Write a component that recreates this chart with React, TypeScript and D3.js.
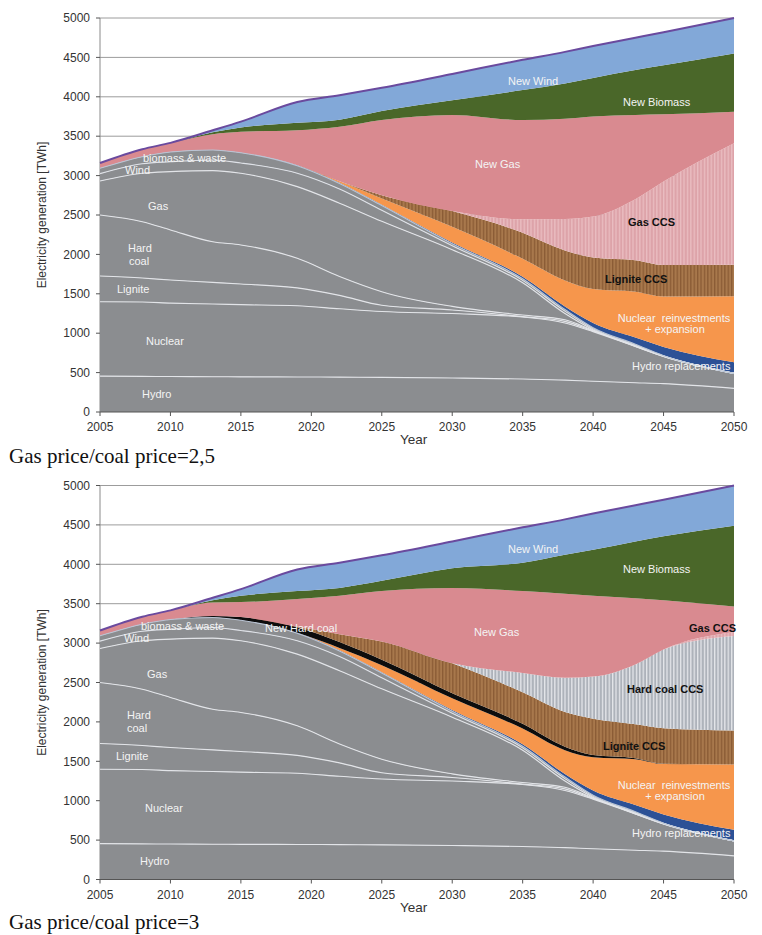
import React from 'react';
import * as d3 from 'd3';

// ---------- DATA ----------
const years = [2005, 2008, 2010, 2013, 2015, 2019, 2022, 2025, 2030, 2035, 2038, 2040, 2043, 2045, 2050];

// existing plants (TWh), identical in both scenarios
const hydro = [455, 452, 450, 448, 446, 445, 442, 440, 432, 418, 405, 390, 372, 360, 300];
const nuclear = [945, 943, 932, 922, 916, 903, 868, 835, 818, 787, 725, 630, 458, 345, 190];
const lignite = [326, 305, 293, 275, 262, 227, 170, 80, 45, 5, 20, 8, 3, 1, 0];
const hardCoal = [774, 715, 635, 515, 496, 375, 240, 172, 45, 20, 20, 7, 3, 2, 0];
const gas = [431, 614, 740, 903, 909, 910, 930, 893, 720, 410, 80, 10, 4, 2, 0];
const wind = [94, 121, 126, 135, 131, 170, 180, 140, 50, 30, 30, 13, 10, 2, 0];
const biomassWaste = [67, 90, 124, 127, 130, 95, 70, 60, 25, 20, 20, 12, 10, 3, 0];

// scenario 1: gas price / coal price = 2,5
const hydroRepl1 = [0, 0, 0, 0, 0, 5, 8, 10, 15, 25, 40, 60, 85, 110, 140];
const nuclearReinv1 = [0, 0, 0, 0, 0, 0, 20, 80, 200, 230, 330, 430, 580, 640, 840];
const ligniteCcs1 = [0, 0, 0, 0, 0, 0, 0, 40, 200, 330, 380, 400, 400, 400, 400];
const gasCcs1 = [0, 0, 0, 0, 0, 0, 0, 0, 0, 170, 400, 520, 775, 1060, 1540];
const newGas1 = [68, 95, 115, 200, 265, 445, 692, 955, 1220, 1260, 1270, 1270, 1070, 853, 400];
const newBiomass1 = [0, 0, 0, 25, 55, 95, 90, 115, 185, 380, 450, 490, 570, 622, 740];
const newWind1 = [0, 0, 0, 25, 75, 265, 310, 295, 335, 385, 400, 405, 410, 420, 450];

// scenario 2: gas price / coal price = 3
const hydroRepl2 = [0, 0, 0, 0, 0, 5, 8, 10, 15, 25, 40, 60, 85, 110, 140];
const nuclearReinv2 = [0, 0, 0, 0, 0, 0, 30, 90, 150, 200, 300, 420, 580, 640, 830];
const newHardCoal2 = [0, 0, 0, 20, 40, 70, 75, 70, 65, 60, 45, 30, 15, 5, 0];
const ligniteCcs2 = [0, 0, 0, 0, 0, 10, 100, 230, 380, 400, 440, 460, 430, 450, 430];
const hardCoalCcs2 = [0, 0, 0, 0, 0, 0, 0, 0, 0, 245, 435, 535, 760, 1000, 1200];
const gasCcs2 = [0, 0, 0, 0, 0, 0, 0, 0, 0, 0, 0, 0, 0, 0, 50];
const newGas2 = [68, 95, 115, 170, 190, 350, 487, 640, 955, 1040, 1065, 1025, 840, 625, 325];
const newBiomass2 = [0, 0, 0, 30, 80, 100, 100, 130, 250, 360, 495, 585, 720, 810, 1025];
const newWind2 = [0, 0, 0, 30, 85, 275, 320, 325, 340, 450, 450, 460, 460, 465, 510];

const yTicks = [0, 500, 1000, 1500, 2000, 2500, 3000, 3500, 4000, 4500, 5000];
const xTicks = [2005, 2010, 2015, 2020, 2025, 2030, 2035, 2040, 2045, 2050];

const captions = ['Gas price/coal price=2,5', 'Gas price/coal price=3'];

// ---------- STYLE ----------
const GRAY = '#8b8d90';
const SANS = 'Arial, "Liberation Sans", Helvetica, sans-serif';

type Layer = { key: string; values: number[]; fill: string; border?: string };

const existing = (): Layer[] => [
  { key: 'Hydro', values: hydro, fill: GRAY, border: '#e2e4e8' },
  { key: 'Nuclear', values: nuclear, fill: GRAY, border: '#e2e4e8' },
  { key: 'Lignite', values: lignite, fill: GRAY, border: '#e2e4e8' },
  { key: 'Hard coal', values: hardCoal, fill: GRAY, border: '#e2e4e8' },
  { key: 'Gas', values: gas, fill: GRAY, border: '#e2e4e8' },
  { key: 'Wind', values: wind, fill: GRAY, border: '#dfe2e8' },
  { key: 'biomass & waste', values: biomassWaste, fill: GRAY, border: '#b9c4d4' },
];

const layers1: Layer[] = [
  ...existing(),
  { key: 'Hydro replacements', values: hydroRepl1, fill: '#2c5196' },
  { key: 'Nuclear reinvestments', values: nuclearReinv1, fill: '#f6964c' },
  { key: 'Lignite CCS', values: ligniteCcs1, fill: 'url(#hatchBrown)' },
  { key: 'Gas CCS', values: gasCcs1, fill: 'url(#hatchPink)' },
  { key: 'New Gas', values: newGas1, fill: '#d98a90' },
  { key: 'New Biomass', values: newBiomass1, fill: '#4a6729' },
  { key: 'New Wind', values: newWind1, fill: '#82a8d8' },
];

const layers2: Layer[] = [
  ...existing(),
  { key: 'Hydro replacements', values: hydroRepl2, fill: '#2c5196' },
  { key: 'Nuclear reinvestments', values: nuclearReinv2, fill: '#f6964c' },
  { key: 'New Hard coal', values: newHardCoal2, fill: '#0d0d0d' },
  { key: 'Lignite CCS', values: ligniteCcs2, fill: 'url(#hatchBrown)' },
  { key: 'Hard coal CCS', values: hardCoalCcs2, fill: 'url(#hatchGray)' },
  { key: 'Gas CCS', values: gasCcs2, fill: 'url(#hatchPink)' },
  { key: 'New Gas', values: newGas2, fill: '#d98a90' },
  { key: 'New Biomass', values: newBiomass2, fill: '#4a6729' },
  { key: 'New Wind', values: newWind2, fill: '#82a8d8' },
];

type Label = { t: string; x: number; y: number; bold?: boolean; anchor?: string };

const labels1: Label[] = [
  { t: 'biomass & waste', x: 143, y: 158 },
  { t: 'Wind', x: 125, y: 170 },
  { t: 'Gas', x: 148, y: 206 },
  { t: 'Hard', x: 128, y: 248 },
  { t: 'coal', x: 129, y: 261 },
  { t: 'Lignite', x: 117, y: 289 },
  { t: 'Nuclear', x: 146, y: 341 },
  { t: 'Hydro', x: 142, y: 394 },
  { t: 'New Wind', x: 508, y: 81 },
  { t: 'New Biomass', x: 623, y: 102 },
  { t: 'New Gas', x: 475, y: 164 },
  { t: 'Gas CCS', x: 628, y: 222, bold: true },
  { t: 'Lignite CCS', x: 605, y: 279, bold: true },
  { t: 'Nuclear\u00a0\u00a0reinvestments', x: 674, y: 318, anchor: 'middle' },
  { t: '+ expansion', x: 675, y: 329, anchor: 'middle' },
  { t: 'Hydro replacements', x: 632, y: 366 },
];

const labels2: Label[] = [
  { t: 'biomass & waste', x: 141, y: 626 },
  { t: 'New Hard coal', x: 265, y: 628 },
  { t: 'Wind', x: 124, y: 638 },
  { t: 'Gas', x: 147, y: 674 },
  { t: 'Hard', x: 127, y: 715 },
  { t: 'coal', x: 127, y: 728 },
  { t: 'Lignite', x: 116, y: 756 },
  { t: 'Nuclear', x: 145, y: 808 },
  { t: 'Hydro', x: 140, y: 861 },
  { t: 'New Wind', x: 508, y: 549 },
  { t: 'New Biomass', x: 623, y: 569 },
  { t: 'New Gas', x: 474, y: 632 },
  { t: 'Gas CCS', x: 689, y: 628, bold: true },
  { t: 'Hard coal CCS', x: 627, y: 689, bold: true },
  { t: 'Lignite CCS', x: 603, y: 746, bold: true },
  { t: 'Nuclear\u00a0\u00a0reinvestments', x: 674, y: 785, anchor: 'middle' },
  { t: '+ expansion', x: 675, y: 796, anchor: 'middle' },
  { t: 'Hydro replacements', x: 632, y: 833 },
];

const xScale = d3.scaleLinear().domain([2005, 2050]).range([100, 734]);

function Chart({ top, layers, labels, caption, captionY }: { top: number; layers: Layer[]; labels: Label[]; caption: string; captionY: number }) {
  const height = 394;
  const y = d3.scaleLinear().domain([0, 5000]).range([top + height, top]);
  const table = years.map((yr, i) => {
    const row: any = { year: yr };
    layers.forEach((l) => (row[l.key] = l.values[i]));
    return row;
  });
  const series = d3.stack<any>().keys(layers.map((l) => l.key))(table);
  const area = d3
    .area<any>()
    .x((d) => xScale(d.data.year))
    .y0((d) => y(d[0]))
    .y1((d) => y(d[1]))
    .curve(d3.curveMonotoneX);
  const line = d3
    .line<any>()
    .x((d) => xScale(d.data.year))
    .y((d) => y(d[1]))
    .curve(d3.curveMonotoneX);
  const bottom = y(0);
  const x0 = xScale(2005);
  const x1 = xScale(2050);
  const mid = top + height / 2;

  return (
    <g>
      {yTicks.slice(1).map((v) => (
        <line key={'g' + v} x1={x0} x2={x1} y1={y(v)} y2={y(v)} stroke="#9c9c9c" strokeWidth={1} />
      ))}
      <line x1={x0} x2={x0} y1={y(5000)} y2={bottom} stroke="#8a8a8a" strokeWidth={1} />
      {series.map((s, i) => (
        <path key={'a' + i} d={area(s as any) || ''} fill={layers[i].fill} stroke="none" />
      ))}
      {series.map((s, i) =>
        layers[i].border ? (
          <path key={'b' + i} d={line(s as any) || ''} fill="none" stroke={layers[i].border} strokeWidth={1.1} />
        ) : null
      )}
      <path d={line(series[series.length - 1] as any) || ''} fill="none" stroke="#6a4a9e" strokeWidth={2} />
      <line x1={x0} x2={x1} y1={bottom} y2={bottom} stroke="#555" strokeWidth={1} />
      {yTicks.map((v) => (
        <g key={'yt' + v}>
          <line x1={x0 - 4} x2={x0} y1={y(v)} y2={y(v)} stroke="#555" />
          <text x={90} y={y(v)} dy="0.35em" textAnchor="end" fontSize={12} fontFamily={SANS} fill="#333">
            {v}
          </text>
        </g>
      ))}
      {xTicks.map((v) => (
        <g key={'xt' + v}>
          <line x1={xScale(v)} x2={xScale(v)} y1={bottom} y2={bottom + 4} stroke="#555" />
          <text x={xScale(v)} y={bottom + 19} textAnchor="middle" fontSize={12} fontFamily={SANS} fill="#333">
            {v}
          </text>
        </g>
      ))}
      <text x={400} y={bottom + 32} fontSize={13.5} fontFamily={SANS} fill="#333">
        Year
      </text>
      <text
        transform={`translate(46,${mid}) rotate(-90)`}
        textAnchor="middle"
        fontSize={12}
        fontFamily={SANS}
        fill="#333"
      >
        Electricity generation [TWh]
      </text>
      {labels.map((l, i) => (
        <text
          key={'l' + i}
          x={l.x}
          y={l.y + 4}
          textAnchor={l.anchor || 'start'}
          fontSize={11}
          fontWeight={l.bold ? 'bold' : 'normal'}
          fontFamily={SANS}
          fill={l.bold ? '#111' : '#f4f4f4'}
        >
          {l.t}
        </text>
      ))}
      <text x={9} y={captionY} fontSize={21} fontFamily='"Liberation Serif", "Times New Roman", serif' fill="#111">
        {caption}
      </text>
    </g>
  );
}

export default function App() {
  return (
    <svg
      width={762}
      height={935}
      style={{ position: 'absolute', left: 0, top: 0, background: '#fff' }}
      xmlns="http://www.w3.org/2000/svg"
    >
      <defs>
        <pattern id="hatchBrown" width={3.4} height={10} patternUnits="userSpaceOnUse">
          <rect width={3.4} height={10} fill="#a8784c" />
          <rect width={1.3} height={10} fill="#8a5b35" />
        </pattern>
        <pattern id="hatchPink" width={3.4} height={10} patternUnits="userSpaceOnUse">
          <rect width={3.4} height={10} fill="#dda3a9" />
          <rect width={1.3} height={10} fill="#eabdc1" />
        </pattern>
        <pattern id="hatchGray" width={3.4} height={10} patternUnits="userSpaceOnUse">
          <rect width={3.4} height={10} fill="#adb2ba" />
          <rect width={1.3} height={10} fill="#e4e6ea" />
        </pattern>
      </defs>
      <rect width={762} height={935} fill="#fff" />
      <Chart top={18} layers={layers1} labels={labels1} caption={captions[0]} captionY={463} />
      <Chart top={485.5} layers={layers2} labels={labels2} caption={captions[1]} captionY={929} />
    </svg>
  );
}
